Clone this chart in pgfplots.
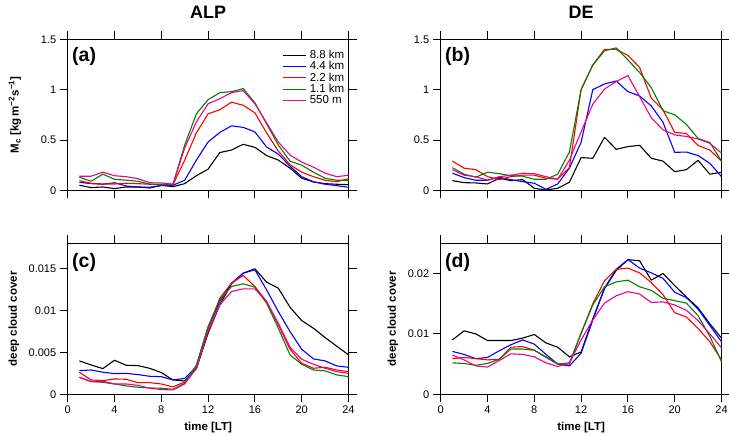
\documentclass[border=0pt]{standalone}
\usepackage{pgfplots}
\usepackage{pgfplotstable}
\pgfplotsset{compat=1.18}
\usepackage{fontspec}
\setmainfont{Liberation Sans}
\definecolor{cgreen}{RGB}{0,128,0}

\pgfplotstableread{
t k88 k44 k22 k11 m550
1 0.050 0.080 0.095 0.130 0.140
2 0.027 0.066 0.070 0.090 0.140
3 0.033 0.060 0.063 0.160 0.180
4 0.017 0.075 0.063 0.110 0.145
5 0.033 0.043 0.070 0.100 0.135
6 0.033 0.033 0.066 0.090 0.115
7 0.023 0.030 0.060 0.060 0.075
8 0.050 0.046 0.053 0.060 0.073
9 0.036 0.050 0.056 0.060 0.060
10 0.066 0.100 0.300 0.450 0.420
11 0.145 0.300 0.570 0.760 0.680
12 0.210 0.480 0.760 0.900 0.860
13 0.375 0.575 0.800 0.970 0.910
14 0.400 0.640 0.875 0.980 0.970
15 0.457 0.625 0.845 1.010 0.990
16 0.427 0.580 0.770 0.870 0.860
17 0.345 0.430 0.570 0.660 0.670
18 0.300 0.360 0.390 0.450 0.480
19 0.220 0.240 0.255 0.290 0.350
20 0.120 0.135 0.180 0.250 0.280
21 0.083 0.085 0.135 0.180 0.230
22 0.066 0.060 0.100 0.120 0.170
23 0.060 0.046 0.085 0.100 0.135
24 0.056 0.030 0.115 0.100 0.150
}\tabA

\pgfplotstableread{
t k88 k44 k22 k11 m550
1 0.096 0.170 0.290 0.225 0.205
2 0.076 0.126 0.220 0.160 0.150
3 0.073 0.100 0.205 0.130 0.135
4 0.063 0.100 0.136 0.180 0.100
5 0.120 0.130 0.106 0.165 0.135
6 0.096 0.105 0.136 0.145 0.150
7 0.106 0.086 0.150 0.140 0.170
8 0.020 0.070 0.150 0.110 0.165
9 0.003 0.010 0.120 0.110 0.135
10 0.020 0.063 0.110 0.160 0.110
11 0.080 0.220 0.225 0.380 0.300
12 0.325 0.477 1.000 1.000 0.580
13 0.318 1.000 1.245 1.245 0.855
14 0.526 1.056 1.400 1.385 1.006
15 0.407 1.086 1.400 1.415 1.080
16 0.434 0.980 1.340 1.295 1.140
17 0.447 0.937 1.220 1.170 0.930
18 0.318 0.838 0.915 1.020 0.720
19 0.290 0.675 0.800 0.790 0.600
20 0.185 0.377 0.575 0.750 0.550
21 0.205 0.380 0.565 0.655 0.535
22 0.298 0.345 0.445 0.515 0.510
23 0.160 0.268 0.400 0.475 0.467
24 0.180 0.136 0.290 0.290 0.370
}\tabB

\pgfplotstableread{
t k88 k44 k22 k11 m550
1 0.00398 0.00282 0.00263 0.00203 0.00203
2 0.00350 0.00290 0.00171 0.00151 0.00151
3 0.00306 0.00263 0.00163 0.00143 0.00155
4 0.00406 0.00247 0.00183 0.00123 0.00123
5 0.00346 0.00250 0.00179 0.00100 0.00123
6 0.00342 0.00235 0.00139 0.00084 0.00107
7 0.00310 0.00215 0.00139 0.00076 0.00072
8 0.00259 0.00210 0.00123 0.00072 0.00056
9 0.00171 0.00171 0.00088 0.00060 0.00052
10 0.00159 0.00190 0.00147 0.00131 0.00123
11 0.00306 0.00330 0.00330 0.00350 0.00310
12 0.00728 0.00788 0.00788 0.00808 0.00748
13 0.01066 0.01106 0.01146 0.01126 0.01066
14 0.01317 0.01325 0.01325 0.01285 0.01225
15 0.01444 0.01444 0.01416 0.01317 0.01257
16 0.01496 0.01484 0.01285 0.01277 0.01257
17 0.01337 0.01245 0.01106 0.01086 0.01106
18 0.01265 0.00987 0.00828 0.00788 0.00847
19 0.01038 0.00748 0.00537 0.00470 0.00561
20 0.00879 0.00537 0.00370 0.00358 0.00418
21 0.00788 0.00422 0.00310 0.00290 0.00358
22 0.00676 0.00398 0.00322 0.00279 0.00310
23 0.00573 0.00338 0.00290 0.00231 0.00270
24 0.00470 0.00322 0.00270 0.00211 0.00250
}\tabC

\pgfplotstableread{
t k88 k44 k22 k11 m550
1 0.0090 0.0071 0.0059 0.0052 0.0065
2 0.0105 0.0066 0.0061 0.0051 0.0057
3 0.0100 0.0059 0.0059 0.0048 0.0047
4 0.0089 0.0061 0.0057 0.0051 0.0045
5 0.0089 0.0072 0.0058 0.0058 0.0056
6 0.0089 0.0082 0.0078 0.0075 0.0067
7 0.0093 0.0090 0.0079 0.0075 0.0066
8 0.0099 0.0083 0.0073 0.0073 0.0062
9 0.0085 0.0066 0.0061 0.0062 0.0052
10 0.0078 0.0050 0.0050 0.0050 0.0046
11 0.0062 0.0047 0.0050 0.0052 0.0052
12 0.0070 0.0068 0.0101 0.0101 0.0090
13 0.0125 0.0123 0.0150 0.0148 0.0123
14 0.0175 0.0176 0.0188 0.0178 0.0151
15 0.0205 0.0207 0.0207 0.0186 0.0163
16 0.0223 0.0223 0.0209 0.0189 0.0170
17 0.0221 0.0209 0.0201 0.0178 0.0166
18 0.0189 0.0201 0.0185 0.0172 0.0152
19 0.0200 0.0192 0.0165 0.0159 0.0153
20 0.0180 0.0169 0.0135 0.0155 0.0148
21 0.0161 0.0160 0.0128 0.0151 0.0139
22 0.0143 0.0141 0.0109 0.0130 0.0122
23 0.0117 0.0114 0.0087 0.0096 0.0100
24 0.0093 0.0087 0.0057 0.0054 0.0077
}\tabD

\pgfplotsset{
  panel/.style={
    scale only axis, width=280.8pt, height=151pt,
    anchor=south west,
    xmin=0, xmax=24, xtick={0,4,...,24},
    tick align=outside, major tick length=8pt,
    axis line style={line width=0.9pt},
    major tick style={black, line width=0.9pt},
    tick label style={font=\fontsize{11}{13}\selectfont},
    /pgf/number format/assume math mode=true,
    scaled y ticks=false, scaled x ticks=false,
    label style={font=\bfseries\fontsize{11.5}{13}\selectfont},
    title style={font=\bfseries\fontsize{18}{20}\selectfont, at={(axis description cs:0.5,1.1377)}, anchor=center},
    every axis plot/.append style={line width=1.1pt, line join=round, mark=none},
    clip=false,
  },
}
\tikzset{letter/.style={anchor=north west, inner sep=0pt, font=\bfseries\fontsize{19.5}{20}\selectfont}}

\begin{document}
\begin{tikzpicture}
\path[use as bounding box] (0pt,0pt) rectangle (729pt,436pt);

% (a)
\begin{axis}[panel, at={(67.7pt,245.7pt)},
  title={ALP},
  ymin=0, ymax=1.5, ytick={0,0.5,1,1.5}, yticklabels={0,0.5,1,1.5},
  xticklabels={},
  ylabel={M\textsubscript{c} [kg\,m\textsuperscript{−2}s\textsuperscript{−1}]},
  ylabel style={at={(axis description cs:-0.1878,0.5)}, anchor=center},
  legend style={at={(axis description cs:0.7648,0.9424)}, anchor=north west, draw=white, fill=white,
    inner sep=0pt, row sep=-2.5pt, column sep=1pt,
    font=\fontsize{11.5}{13}\selectfont},
  legend cell align=left,
  legend image post style={xscale=1.35, line width=1.1pt},
]
\addplot[black] table[x=t,y=k88] {\tabA}; \addlegendentry{8.8 km}
\addplot[blue] table[x=t,y=k44] {\tabA}; \addlegendentry{4.4 km}
\addplot[red] table[x=t,y=k22] {\tabA}; \addlegendentry{2.2 km}
\addplot[cgreen] table[x=t,y=k11] {\tabA}; \addlegendentry{1.1 km}
\addplot[magenta] table[x=t,y=m550] {\tabA}; \addlegendentry{550 m}
\node[letter] at (axis description cs:0.0153,0.9503) {(a)};
\end{axis}

% (b)
\begin{axis}[panel, at={(440.7pt,245.7pt)},
  title={DE},
  ymin=0, ymax=1.5, ytick={0,0.5,1,1.5}, yticklabels={0,0.5,1,1.5},
  xticklabels={},
]
\addplot[black] table[x=t,y=k88] {\tabB};
\addplot[blue] table[x=t,y=k44] {\tabB};
\addplot[red] table[x=t,y=k22] {\tabB};
\addplot[cgreen] table[x=t,y=k11] {\tabB};
\addplot[magenta] table[x=t,y=m550] {\tabB};
\node[letter] at (axis description cs:0.0153,0.9503) {(b)};
\end{axis}

% (c)
\begin{axis}[panel, at={(67.7pt,41.7pt)},
  ymin=0, ymax=0.018, ytick={0,0.005,0.01,0.015}, yticklabels={0,0.005,0.01,0.015},
  xticklabels={0,4,8,12,16,20,24},
  ylabel={deep cloud cover},
  ylabel style={at={(axis description cs:-0.1914,0.5)}, anchor=center},
  xlabel={time [LT]},
  xlabel style={at={(axis description cs:0.5,-0.2232)}, anchor=center},
]
\addplot[black] table[x=t,y=k88] {\tabC};
\addplot[blue] table[x=t,y=k44] {\tabC};
\addplot[red] table[x=t,y=k22] {\tabC};
\addplot[cgreen] table[x=t,y=k11] {\tabC};
\addplot[magenta] table[x=t,y=m550] {\tabC};
\node[letter] at (axis description cs:0.0153,0.9377) {(c)};
\end{axis}

% (d)
\begin{axis}[panel, at={(440.7pt,41.7pt)},
  ymin=0, ymax=0.025, ytick={0,0.01,0.02}, yticklabels={0,0.01,0.02},
  xticklabels={0,4,8,12,16,20,24},
  ylabel={deep cloud cover},
  ylabel style={at={(axis description cs:-0.1698,0.5)}, anchor=center},
  xlabel={time [LT]},
  xlabel style={at={(axis description cs:0.5,-0.2232)}, anchor=center},
]
\addplot[black] table[x=t,y=k88] {\tabD};
\addplot[blue] table[x=t,y=k44] {\tabD};
\addplot[red] table[x=t,y=k22] {\tabD};
\addplot[cgreen] table[x=t,y=k11] {\tabD};
\addplot[magenta] table[x=t,y=m550] {\tabD};
\node[letter] at (axis description cs:0.0153,0.9377) {(d)};
\end{axis}
\end{tikzpicture}
\end{document}
